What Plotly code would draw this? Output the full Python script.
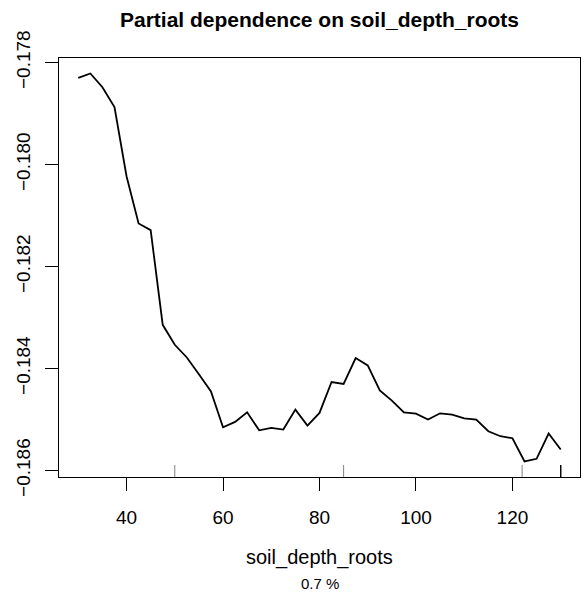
import plotly.graph_objects as go

# Partial dependence of the model response on soil_depth_roots
soil_depth = [30 + 2.5 * i for i in range(41)]
partial_dep = [
    -0.178299, -0.178215, -0.178483, -0.178874, -0.180230, -0.181155, -0.181286,
    -0.183144, -0.183535, -0.183784, -0.184113, -0.184449, -0.185153, -0.185048,
    -0.184860, -0.185212, -0.185165, -0.185198, -0.184807, -0.185120, -0.184872,
    -0.184265, -0.184304, -0.183796, -0.183940, -0.184429, -0.184631, -0.184860,
    -0.184885, -0.185002, -0.184879, -0.184905, -0.184977, -0.185002, -0.185231,
    -0.185329, -0.185368, -0.185824, -0.185771, -0.185276, -0.185589,
]
# Deciles of the predictor, shown as a rug along the bottom
rug_deciles = [50, 85, 122, 130, 130, 130, 130, 130, 130]

x_ticks = [40, 60, 80, 100, 120]
y_ticks = [-0.186, -0.184, -0.182, -0.180, -0.178]

title_text = "Partial dependence on soil_depth_roots"
x_label = "soil_depth_roots"
importance_label = "0.7 %"

W, H = 587, 595
L, R, T, B = 59, 7, 58, 118
plot_h = H - T - B


def padded(lo, hi, frac=0.04):
    span = hi - lo
    return [lo - frac * span, hi + frac * span]


FONT = "Liberation Sans, Arial, Helvetica, sans-serif"

fig = go.Figure()
fig.add_trace(go.Scatter(
    x=soil_depth, y=partial_dep, mode="lines",
    line=dict(color="black", width=1.8), showlegend=False, hoverinfo="skip",
))

for xv in rug_deciles:
    fig.add_shape(type="line", xref="x", yref="y domain",
                  x0=xv, x1=xv, y0=0, y1=12 / plot_h,
                  line=dict(color="rgba(0,0,0,0.5)", width=1))

fig.update_layout(
    width=W, height=H,
    margin=dict(l=L, r=R, t=T, b=B),
    paper_bgcolor="white", plot_bgcolor="white",
    font=dict(family=FONT, color="black", size=19),
    title=dict(text=f"<b>{title_text}</b>", x=0.5, xref="paper",
               y=1 - 20 / H, yref="container", yanchor="middle",
               font=dict(size=21, family=FONT)),
    annotations=[
        dict(text=x_label, xref="paper", yref="paper", x=0.5, y=-(557 - (H - B)) / plot_h,
             yanchor="middle", showarrow=False, font=dict(size=20, family=FONT)),
        dict(text=importance_label, xref="paper", yref="paper", x=0.5, y=-(583 - (H - B)) / plot_h,
             yanchor="middle", showarrow=False, font=dict(size=15, family=FONT)),
    ],
)

fig.update_xaxes(
    range=padded(min(soil_depth), max(soil_depth)),
    tickvals=x_ticks, ticks="outside", ticklen=13, tickwidth=1, tickcolor="black",
    showline=True, linecolor="black", linewidth=1, mirror=True,
    showgrid=False, zeroline=False, ticklabelstandoff=10,
    tickfont=dict(size=19),
)
fig.update_yaxes(
    range=padded(min(partial_dep), max(partial_dep)),
    tickvals=y_ticks, tickformat=".3f", tickangle=-90,
    ticks="outside", ticklen=13, tickwidth=1, tickcolor="black",
    showline=True, linecolor="black", linewidth=1, mirror=True,
    showgrid=False, zeroline=False, ticklabelstandoff=7,
    tickfont=dict(size=19),
)

fig.write_html("out.html")
